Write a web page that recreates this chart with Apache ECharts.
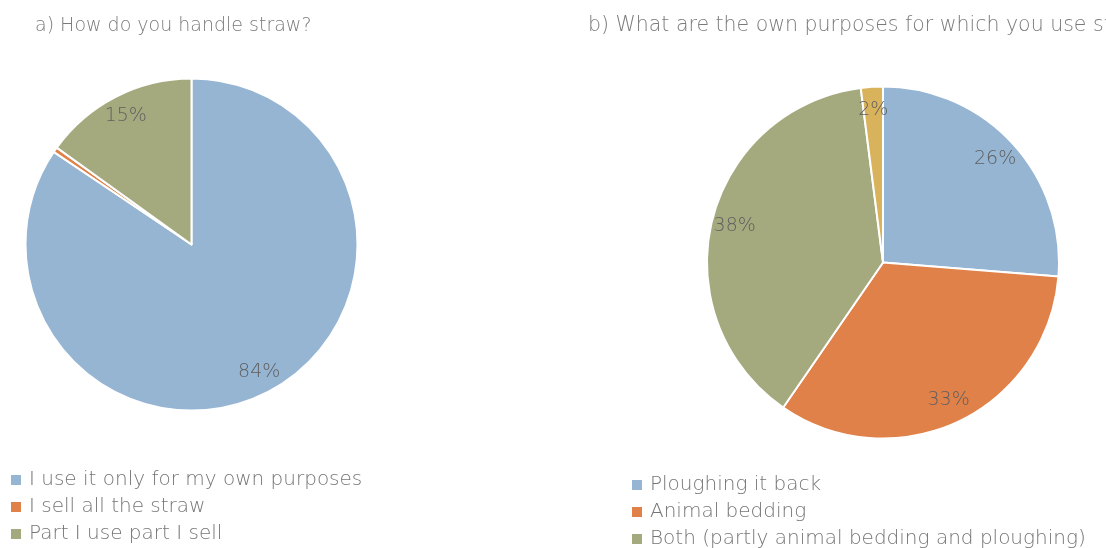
<!DOCTYPE html>
<html>
<head>
<meta charset="utf-8">
<script src="https://cdn.jsdelivr.net/npm/echarts@6/dist/echarts.min.js"></script>
<style>
  html, body { margin: 0; padding: 0; background: #fff; }
  #chart { width: 1106px; height: 548px; }
</style>
</head>
<body>
<div id="chart"></div>
<script>
// Survey answers on straw handling (percent of respondents)
const handleTitle = 'a) How do you handle straw?';
const handleNames = ['I use it only for my own purposes', 'I sell all the straw', 'Part I use part I sell'];
const handleValues = [84, 0.5, 15];

const purposeTitle = 'b) What are the own purposes for which you use straw?';
const purposeNames = ['Ploughing it back', 'Animal bedding', 'Both (partly animal bedding and ploughing)', 'Other'];
const purposeValues = [26, 33, 38, 2];
const purposeLegend = purposeNames.slice(0, 3);

const palette = ['#95b5d3', '#df8148', '#a4aa7e', '#d9b35c'];
const FONT = '"DejaVu Sans", "Open Sans", sans-serif';

function toData(names, values) {
  return names.map((n, i) => ({ name: n, value: values[i], itemStyle: { color: palette[i] } }));
}

// main slices
function slices(center, r, names, values) {
  return {
    type: 'pie',
    center: center,
    radius: [0, r],
    startAngle: 90,
    clockwise: true,
    silent: true,
    label: { show: false },
    labelLine: { show: false },
    itemStyle: { borderColor: '#ffffff', borderWidth: 2 },
    data: toData(names, values)
  };
}

// transparent ring that only carries the percentage labels near the rim
function labelRing(center, r, names, values, hideBelow) {
  return {
    type: 'pie',
    center: center,
    radius: [r * 0.7, r],
    startAngle: 90,
    clockwise: true,
    silent: true,
    avoidLabelOverlap: false,
    itemStyle: { color: 'rgba(0,0,0,0)', borderWidth: 0 },
    labelLine: { show: false },
    label: {
      show: true,
      position: 'inside',
      fontFamily: FONT,
      fontSize: 19,
      fontWeight: 200,
      color: '#5f5f5f',
      formatter: p => (p.value < hideBelow ? '' : p.value + '%')
    },
    data: names.map((n, i) => ({ name: n, value: values[i] }))
  };
}

const legendText = { fontFamily: FONT, fontSize: 20, fontWeight: 200, color: '#757575', lineHeight: 20, padding: [0, 0, 0, 3] };
const legendBase = {
  orient: 'vertical', height: 120, padding: 0,
  icon: 'rect', itemWidth: 10, itemHeight: 10, itemGap: 7, selectedMode: false,
  itemStyle: { borderWidth: 0, borderColor: 'transparent' },
  textStyle: legendText
};

const chart = echarts.init(document.getElementById('chart'));
chart.setOption({
  animation: false,
  title: [
    { text: handleTitle, left: 30, top: 12,
      textStyle: { fontFamily: FONT, fontSize: 19, fontWeight: 200, color: '#7a7a7a' } },
    { text: purposeTitle, left: 583, top: 10,
      textStyle: { fontFamily: FONT, fontSize: 20.5, fontWeight: 200, color: '#7a7a7a' } }
  ],
  legend: [
    Object.assign({}, legendBase, { left: 11, top: 470, data: handleNames }),
    Object.assign({}, legendBase, { left: 632, top: 475, data: purposeLegend })
  ],
  series: [
    slices([191.5, 244.5], 166, handleNames, handleValues),
    slices([883, 262.5], 176, purposeNames, purposeValues),
    labelRing([191.5, 244.5], 166, handleNames, handleValues, 1),
    labelRing([883, 262.5], 176, purposeNames, purposeValues, 0)
  ]
});
</script>
</body>
</html>
